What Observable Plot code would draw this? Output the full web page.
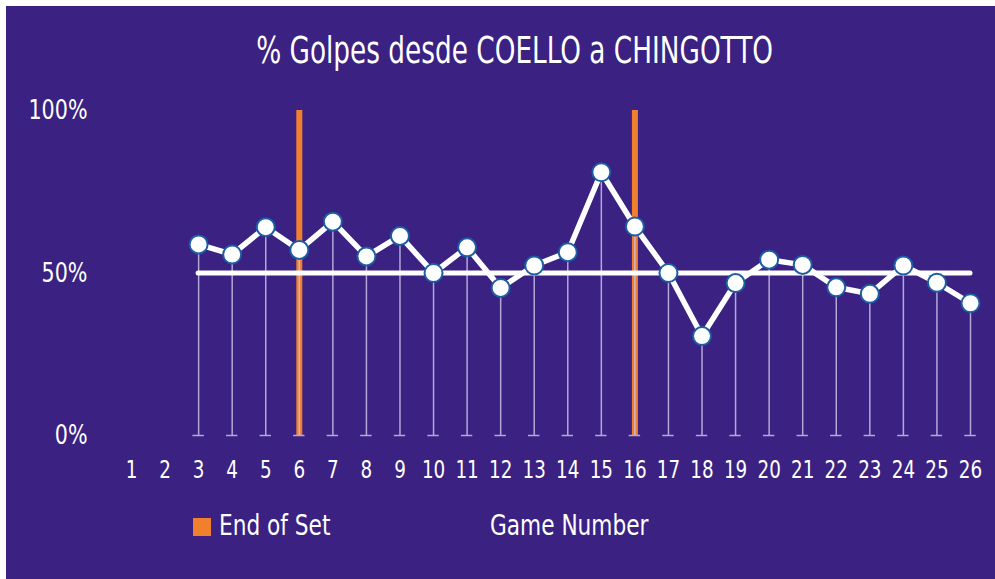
<!DOCTYPE html>
<html>
<head>
<meta charset="utf-8">
<script src="https://cdn.jsdelivr.net/npm/d3@7"></script>
<script src="https://cdn.jsdelivr.net/npm/@observablehq/plot@0.6"></script>
<style>
  html, body { margin: 0; padding: 0; background: #ffffff; }
  body { width: 995px; height: 579px; position: relative; overflow: hidden;
         font-family: "DejaVu Sans Condensed", "DejaVu Sans", sans-serif; }
  #panel { position: absolute; left: 6px; top: 6px; width: 989px; height: 573px; background: #3a2182; }
  #title { position: absolute; left: 0; width: 1018px; top: 25px; text-align: center; color: #fff;
           font-size: 38px; line-height: 1; }
  #title span { display: inline-block; transform: scaleX(0.77); transform-origin: center; white-space: nowrap; }
  #chart { position: absolute; left: 0; top: 84px; }
  .leg { position: absolute; color: #fff; font-size: 28px; line-height: 1; transform: scaleX(0.86); transform-origin: left center; white-space: nowrap; }
  #swatch { position: absolute; left: 187px; top: 512px; width: 18px; height: 18px; background: #f07f2e; }
</style>
</head>
<body>
<div id="panel">
  <div id="title"><span>% Golpes desde COELLO a CHINGOTTO</span></div>
  <div id="chart"></div>
  <div id="swatch"></div>
  <div class="leg" style="left:213px; top:506px;">End of Set</div>
  <div class="leg" style="left:484px; top:506px;">Game Number</div>
</div>
<script>
const games = [3, 4, 5, 6, 7, 8, 9, 10, 11, 12, 13, 14, 15, 16, 17, 18, 19, 20, 21, 22, 23, 24, 25, 26];
const pct = [58.8, 55.7, 64.1, 57.1, 65.8, 55.1, 61.4, 50.0, 57.9, 45.4, 52.3, 56.4, 81.0, 64.3, 50.0, 30.6, 46.9, 54.1, 52.5, 45.6, 43.6, 52.3, 47.0, 40.7];
const xTicks = [1, 2, 3, 4, 5, 6, 7, 8, 9, 10, 11, 12, 13, 14, 15, 16, 17, 18, 19, 20, 21, 22, 23, 24, 25, 26];
const yTicks = [0, 50, 100];
const endOfSet = [6, 16];
const average = 50;

const data = games.map((g, i) => ({game: g, pct: pct[i]}));

const chart = Plot.plot({
  width: 989,
  height: 400,
  marginLeft: 125,
  marginRight: 25,
  marginTop: 20,
  marginBottom: 55,
  style: {background: "transparent", color: "#fff", fontFamily: "'DejaVu Sans Condensed', 'DejaVu Sans', sans-serif", overflow: "visible"},
  x: {domain: [1, 26], ticks: xTicks, tickSize: 0, tickPadding: 25, label: null, tickFormat: d => String(d)},
  y: {domain: [0, 100], ticks: yTicks, tickSize: 0, tickPadding: 44, label: null, tickFormat: d => d + "%"},
  marks: [
    Plot.ruleX(endOfSet, {x: d => d, y1: 0, y2: 100, stroke: "#f07f2e", strokeWidth: 6}),
    Plot.ruleX(data, {x: "game", y1: 0, y2: "pct", stroke: "#c9c0e6", strokeWidth: 1.5, strokeOpacity: 0.85}),
    Plot.ruleY(data, {y: 0, x1: d => d.game - 0.17, x2: d => d.game + 0.17, stroke: "#c9c0e6", strokeWidth: 1.5, strokeOpacity: 0.85}),
    Plot.ruleY([average], {y: d => d, x1: games[0], x2: games[games.length - 1], stroke: "#ffffff", strokeWidth: 5, strokeLinecap: "round"}),
    Plot.line(data, {x: "game", y: "pct", stroke: "#ffffff", strokeWidth: 5.5}),
    Plot.dot(data, {x: "game", y: "pct", r: 9, fill: "#ffffff", stroke: "#1b5ea3", strokeWidth: 2}),
    Plot.axisX({ticks: xTicks, tickSize: 0, tickPadding: 25, fontSize: 24, tickFormat: d => String(d), label: null}),
    Plot.axisY({ticks: yTicks, tickSize: 0, tickPadding: 44, fontSize: 27, tickFormat: d => d + "%", label: null})
  ]
});
// narrow the tick label glyphs to mimic the condensed typeface (anchor points unchanged)
d3.select(chart).selectAll('g[aria-label="y-axis tick label"] text, g[aria-label="x-axis tick label"] text')
  .each(function() {
    const t = this.getAttribute("transform");
    if (t) this.setAttribute("transform", t + " scale(0.85,1)");
  });
document.getElementById("chart").appendChild(chart);
</script>
</body>
</html>
